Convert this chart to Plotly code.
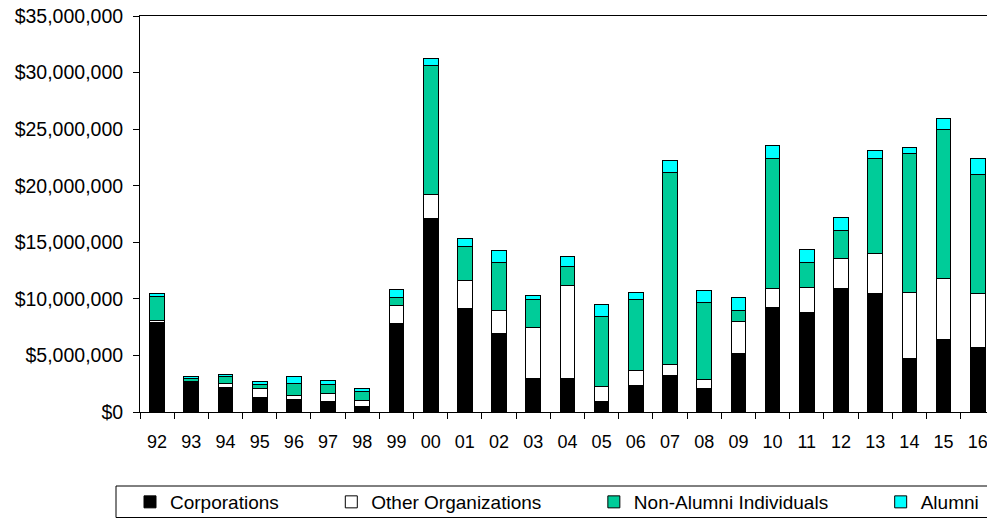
import plotly.graph_objects as go

years = ["92", "93", "94", "95", "96", "97", "98", "99", "00", "01", "02", "03", "04",
         "05", "06", "07", "08", "09", "10", "11", "12", "13", "14", "15", "16"]

corporations = [7900000, 2700000, 2200000, 1300000, 1080000, 970000, 500000, 7800000,
                17080000, 9130000, 6980000, 3000000, 2920000, 970000, 2320000, 3230000,
                2090000, 5180000, 9240000, 8830000, 10950000, 10510000, 4730000, 6450000,
                5740000]
other_orgs = [180000, 20000, 300000, 750000, 420000, 650000, 560000, 1620000,
              2140000, 2470000, 2000000, 4510000, 8240000, 1290000, 1390000, 1010000,
              790000, 2800000, 1680000, 2210000, 2590000, 3470000, 5840000, 5390000,
              4710000]
non_alumni = [2150000, 240000, 600000, 420000, 1030000, 820000, 730000, 710000,
              11430000, 3030000, 4210000, 2410000, 1700000, 6190000, 6210000, 16900000,
              6800000, 1000000, 11460000, 2150000, 2480000, 8400000, 12250000, 13160000,
              10580000]
alumni = [270000, 200000, 250000, 200000, 600000, 330000, 300000, 730000,
          590000, 740000, 1060000, 350000, 920000, 1030000, 680000, 1120000,
          1040000, 1180000, 1170000, 1150000, 1170000, 700000, 590000, 910000,
          1370000]

series_names = ["Corporations", "Other Organizations", "Non-Alumni Individuals", "Alumni"]
series_values = [corporations, other_orgs, non_alumni, alumni]
series_colors = ["#000000", "#FFFFFF", "#00CC99", "#00FFFF"]

FONT = "Liberation Sans, Arial, sans-serif"
PAD = "\u00a0" * 9

fig = go.Figure()
for i, (name, vals, col) in enumerate(zip(series_names, series_values, series_colors)):
    label = name + (PAD if i < len(series_names) - 1 else "")
    fig.add_trace(go.Bar(
        x=years, y=vals, name=label,
        marker=dict(color=col, line=dict(color="#000000", width=1)),
    ))

W, H = 987, 519
L, T, B = 140, 16, 107
plot_w = W - L
plot_h = H - T - B

# legend frame (extends past the right edge as in the reference)
fig.add_shape(
    type="rect", xref="paper", yref="paper",
    x0=(116 - L) / plot_w, x1=1.05,
    y0=(H - B - 517.5) / plot_h, y1=(H - B - 486) / plot_h,
    line=dict(color="black", width=1), fillcolor="rgba(0,0,0,0)",
    layer="above",
)

fig.update_layout(
    barmode="stack",
    bargap=0.57,
    width=W, height=H,
    margin=dict(l=L, r=0, t=T, b=B, autoexpand=False),
    paper_bgcolor="white", plot_bgcolor="white",
    font=dict(family=FONT, size=18, color="black"),
    showlegend=True,
    legend=dict(
        orientation="h",
        traceorder="normal",
        x=(130 - L) / plot_w, xanchor="left",
        y=(H - B - 483) / plot_h, yanchor="top",
        borderwidth=0, bgcolor="rgba(0,0,0,0)",
        font=dict(family=FONT, size=19, color="black"),
    ),
    xaxis=dict(
        type="category",
        range=[-0.5, 24.27],
        showline=True, linecolor="black", linewidth=1, mirror=True,
        ticks="outside", tickson="boundaries", ticklen=6, tickcolor="black",
        ticklabelstandoff=13, ticklabeloverflow="allow",
        showgrid=False, zeroline=False,
        tickfont=dict(family=FONT, size=18),
    ),
    yaxis=dict(
        range=[0, 35000000], dtick=5000000,
        tickprefix="$", tickformat=",d",
        showline=True, linecolor="black", linewidth=1,
        ticks="outside", ticklen=6, tickcolor="black",
        ticklabelstandoff=6, ticklabeloverflow="allow",
        showgrid=False, zeroline=False,
        tickfont=dict(family=FONT, size=19.5),
    ),
)

fig.write_html(
    "out.html",
    config={"displayModeBar": False},
    post_script="document.body.style.margin='0';document.body.style.overflow='hidden';",
)
